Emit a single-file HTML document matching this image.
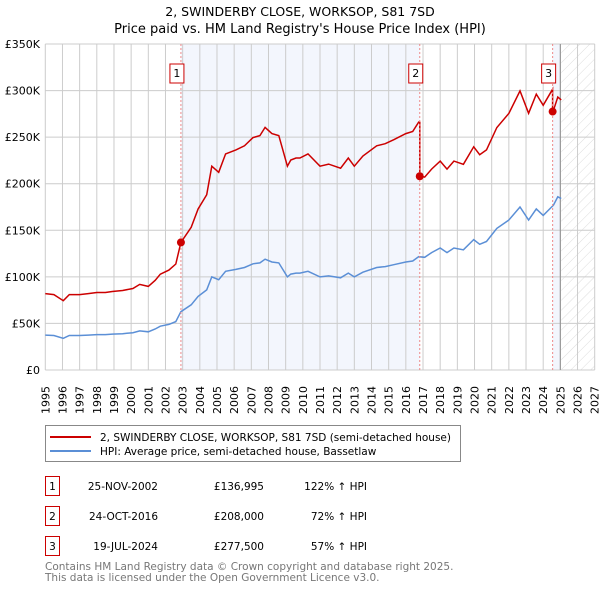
<!DOCTYPE html>
<html><head><meta charset="utf-8"><style>
body{margin:0;background:#fff;width:600px;height:590px;overflow:hidden;font-family:"DejaVu Sans","Liberation Sans",sans-serif}
svg{display:block}
</style></head><body>
<svg id="chart" width="600" height="590" xmlns="http://www.w3.org/2000/svg" font-family="DejaVu Sans, Liberation Sans, sans-serif">
<defs><pattern id="hatch" width="7" height="7" patternUnits="userSpaceOnUse" patternTransform="rotate(45)"><line x1="0" y1="0" x2="0" y2="7" stroke="#d4d4d4" stroke-width="0.8"/></pattern></defs>
<text x="300" y="16" text-anchor="middle" font-size="12.5" fill="#000">2, SWINDERBY CLOSE, WORKSOP, S81 7SD</text>
<text x="300" y="33" text-anchor="middle" font-size="13" fill="#000">Price paid vs. HM Land Registry's House Price Index (HPI)</text>
<g id="bg"></g><g id="grid"></g><g id="axes"></g><g id="series"></g><g id="marks"></g>
<g>
<rect x="45.5" y="425.5" width="415" height="36" fill="#fff" stroke="#888"/>
<line x1="50" y1="437" x2="91" y2="437" stroke="#cc0000" stroke-width="2"/>
<text x="100" y="441" font-size="10.5">2, SWINDERBY CLOSE, WORKSOP, S81 7SD (semi-detached house)</text>
<line x1="50" y1="451" x2="91" y2="451" stroke="#5b8fd6" stroke-width="2"/>
<text x="100" y="455" font-size="10.5">HPI: Average price, semi-detached house, Bassetlaw</text>
</g>
<g id="table" font-size="10.5"></g>
<text x="45" y="570" font-size="10.5" fill="#777">Contains HM Land Registry data © Crown copyright and database right 2025.</text>
<text x="45" y="581" font-size="10.5" fill="#777">This data is licensed under the Open Government Licence v3.0.</text>
</svg>
<script>
const hpiYears=[1995,1995.5,1996.05,1996.4,1997,1997.5,1998,1998.5,1998.9,1999.5,2000.1,2000.5,2001,2001.4,2001.7,2002.2,2002.6,2002.9,2003.5,2003.9,2004.4,2004.7,2005.1,2005.5,2006.1,2006.6,2007.1,2007.5,2007.8,2008.2,2008.6,2009.1,2009.3,2009.6,2009.83,2010.3,2011.0,2011.5,2012.2,2012.65,2013.0,2013.5,2014.3,2014.8,2015.3,2016.0,2016.4,2016.75,2017.1,2017.5,2018.0,2018.4,2018.8,2019.35,2019.95,2020.3,2020.7,2021.3,2022.0,2022.65,2023.15,2023.6,2024.0,2024.6,2024.85,2025.05];
const hpiValues=[37.5,37,34,37,37,37.5,38,38,38.5,39,40,42,41,44,47,49,52,62.6,70,79,86,100,97,106,108,110,114,115,119,116,115,100,103,104,104,106,100,101,99,104,100,105,110,111,113,116,117,121.6,121,126,131,126,131,129,140,135,138,152,161,175,161,173,166,177,186,184];
const sales=[{n:"1",date:"25-NOV-2002",t:2002.9,price:136995,pct:"122%"},{n:"2",date:"24-OCT-2016",t:2016.81,price:208000,pct:"72%"},{n:"3",date:"19-JUL-2024",t:2024.55,price:277500,pct:"57%"}];
const yTicks=[0,50,100,150,200,250,300,350];
const yTickLabels=["£0","£50K","£100K","£150K","£200K","£250K","£300K","£350K"];
const xTickYears=[1995,1996,1997,1998,1999,2000,2001,2002,2003,2004,2005,2006,2007,2008,2009,2010,2011,2012,2013,2014,2015,2016,2017,2018,2019,2020,2021,2022,2023,2024,2025,2026,2027];
const X0=45.3,X1=594.7,Y0=370,Y1=44;
const xs=t=>X0+(t-1995)/32*(X1-X0);
const ys=v=>Y0-v/350*(Y0-Y1);
const NS="http://www.w3.org/2000/svg";
function mk(parent,tag,attrs){const e=document.createElementNS(NS,tag);for(const k in attrs)e.setAttribute(k,attrs[k]);document.getElementById(parent).appendChild(e);return e;}
function hpiAt(t){for(let i=0;i<hpiYears.length-1;i++){if(t>=hpiYears[i]&&t<=hpiYears[i+1]){const f=(t-hpiYears[i])/(hpiYears[i+1]-hpiYears[i]);return hpiValues[i]+f*(hpiValues[i+1]-hpiValues[i]);}}return hpiValues[hpiValues.length-1];}
let r=mk('bg','rect',{x:xs(sales[0].t),y:Y1,width:xs(sales[1].t)-xs(sales[0].t),height:Y0-Y1,fill:'#f3f6fd'});

r=mk('bg','rect',{x:xs(sales[2].t),y:Y1,width:xs(2025.0)-xs(sales[2].t),height:Y0-Y1,fill:'#f3f6fd'});

r=mk('bg','rect',{x:xs(2025.05),y:Y1,width:X1-xs(2025.05),height:Y0-Y1,fill:'url(#hatch)'});

xTickYears.forEach(y=>{const l=mk('grid','line',{x1:xs(y),x2:xs(y),y1:Y1,y2:Y0,stroke:'#cccccc','stroke-width':1});
const t=mk('axes','text',{x:0,y:0,transform:`translate(${xs(y)+4},414) rotate(-90)`,'font-size':11});t.textContent=y;});
yTicks.forEach((v,i)=>{const l=mk('grid','line',{x1:X0,x2:X1,y1:ys(v),y2:ys(v),stroke:'#cccccc','stroke-width':1});
const t=mk('axes','text',{x:40,y:ys(v)+4,'text-anchor':'end','font-size':11});t.textContent=yTickLabels[i];});
let dl=mk('grid','line',{x1:xs(2025.0),x2:xs(2025.0),y1:Y1,y2:Y0,stroke:'#999','stroke-width':1.2});

const hp=hpiYears.map((t,i)=>`${xs(t).toFixed(1)},${ys(hpiValues[i]).toFixed(1)}`).join(' ');
const hl=mk('series','polyline',{points:hp,fill:'none',stroke:'#5b8fd6','stroke-width':1.5});

function factor(t){let f=sales[0].price/1000/hpiAt(sales[0].t);for(const s of sales){if(t>=s.t)f=s.price/1000/hpiAt(s.t);}return f;}
let pts=[];
hpiYears.forEach((t,i)=>{
 sales.forEach(s=>{if(i>0&&s.t>hpiYears[i-1]&&s.t<=t){const prev=factor(s.t-0.001)*hpiAt(s.t);pts.push([s.t,prev]);pts.push([s.t,s.price/1000]);}});
 pts.push([t,factor(t)*hpiValues[i]]);});
const rl=mk('series','polyline',{points:pts.map(p=>`${xs(p[0]).toFixed(1)},${ys(p[1]).toFixed(1)}`).join(' '),fill:'none',stroke:'#cc0000','stroke-width':1.5});

sales.forEach((s,i)=>{const x=xs(s.t);
 const v=mk('marks','line',{x1:x,x2:x,y1:Y1,y2:Y0,stroke:'#ee8888','stroke-width':1,'stroke-dasharray':'2,2'});
 const c=mk('marks','circle',{cx:x,cy:ys(s.price/1000),r:4,fill:'#cc0000'});
 const b=mk('marks','rect',{x:x-11,y:64,width:14,height:19,fill:'#fff',stroke:'#cc0000'});
 const t=mk('marks','text',{x:x-4,y:77,'text-anchor':'middle','font-size':11});t.textContent=s.n;
 const y=476+i*30;
 const tb=mk('table','rect',{x:45.5,y:y+0.5,width:14,height:19,fill:'#fff',stroke:'#cc0000'});
 const tn=mk('table','text',{x:52.5,y:y+14,'text-anchor':'middle'});tn.textContent=s.n;
 const td=mk('table','text',{x:158,y:y+14,'text-anchor':'end'});td.textContent=s.date;
 const tp=mk('table','text',{x:264,y:y+14,'text-anchor':'end'});tp.textContent='£'+s.price.toLocaleString('en-GB');
 const th=mk('table','text',{x:367,y:y+14,'text-anchor':'end'});th.textContent=s.pct+' \u2191 HPI';
});
</script>
</body></html>
